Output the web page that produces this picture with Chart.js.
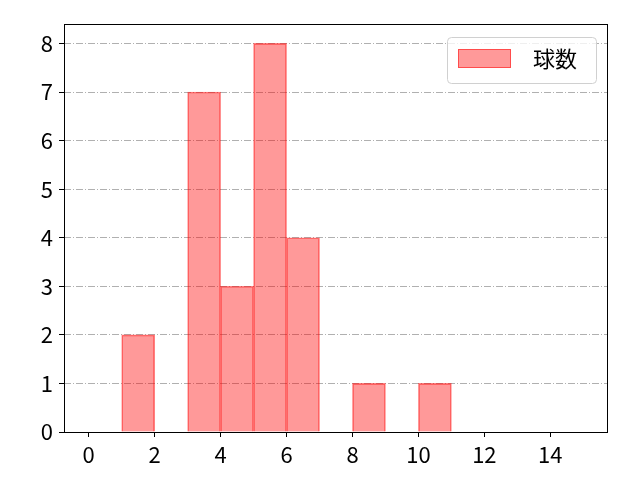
<!DOCTYPE html>
<html>
<head>
<meta charset="utf-8">
<script src="https://cdn.jsdelivr.net/npm/chart.js@4.4.0/dist/chart.umd.min.js"></script>
<style>
  html, body { margin: 0; padding: 0; background: #fff; }
  #wrap { width: 640px; height: 480px; }
</style>
</head>
<body>
<div id="wrap"><canvas id="mycanvas" width="640" height="480"></canvas></div>
<script>
// histogram bins (width 1) and counts
var binStarts = [0, 1, 2, 3, 4, 5, 6, 7, 8, 9, 10, 11, 12, 13, 14];
var counts    = [0, 2, 0, 7, 3, 8, 4, 0, 1, 0, 1, 0, 0, 0, 0];
var xTicks = [0, 2, 4, 6, 8, 10, 12, 14];
var yTicks = [0, 1, 2, 3, 4, 5, 6, 7, 8];
var seriesLabel = '球数';

var FONT = "'Noto Sans CJK JP', 'Noto Sans', sans-serif";

var points = [];
for (var i in binStarts) {
  points.push({ x: binStarts[i] + 0.5, y: counts[i] });
}

// box round the plot and the legend in the upper right corner
var frameAndLegend = {
  id: 'frameAndLegend',
  afterDraw: function(chart) {
    var c = chart.ctx, a = chart.chartArea;
    c.save();
    c.strokeStyle = '#000';
    c.lineWidth = 1;
    c.strokeRect(Math.round(a.left) + 0.5, Math.round(a.top) + 0.5,
                 Math.round(a.right - a.left) - 1, Math.round(a.bottom - a.top));

    var ds = chart.data.datasets[0];
    var w = 149, h = 46;
    var lx = a.right - 12 - w, ly = a.top + 13;
    c.beginPath();
    c.roundRect(lx + 0.5, ly + 0.5, w, h, 4);
    c.fillStyle = 'rgba(255,255,255,0.8)';
    c.fill();
    c.strokeStyle = '#d0d0d0';
    c.stroke();

    c.fillStyle = '#fff';
    c.fillRect(lx + 11, ly + 12, 53, 19);
    c.fillStyle = ds.backgroundColor;
    c.fillRect(lx + 11, ly + 12, 53, 19);
    c.strokeStyle = ds.borderColor;
    c.strokeRect(lx + 11.5, ly + 12.5, 52, 18);

    c.fillStyle = '#000';
    c.font = '22px ' + FONT;
    c.textBaseline = 'middle';
    c.textAlign = 'left';
    c.fillText(ds.label, lx + 86, ly + 22);
    c.restore();
  }
};

var ctx = document.getElementById('mycanvas');

var barGraph = new Chart(ctx, {
  type: 'bar',
  data: {
    datasets: [{
      label: seriesLabel,
      data: points,
      backgroundColor: 'rgba(255, 0, 0, 0.4)',
      borderColor: 'rgba(255, 0, 0, 0.5)',
      borderWidth: 1,
      barPercentage: 1,
      categoryPercentage: 1
    }]
  },
  options: {
    responsive: false,
    animation: false,
    devicePixelRatio: 1,
    layout: { padding: { top: 24, right: 32, left: 0, bottom: 0 } },
    plugins: {
      legend: { display: false },
      tooltip: { enabled: false }
    },
    scales: {
      x: {
        type: 'linear',
        offset: false,
        min: -0.75,
        max: 15.75,
        afterBuildTicks: function(scale) {
          scale.ticks = xTicks.map(function(v) { return { value: v }; });
        },
        afterFit: function(scale) { scale.height = 48; },
        border: { display: false },
        grid: {
          offset: false,
          drawOnChartArea: false,
          drawTicks: true,
          tickLength: 5,
          tickColor: '#000',
          tickWidth: 1
        },
        ticks: {
          color: '#000',
          padding: 4,
          maxRotation: 0,
          autoSkip: false,
          font: { family: FONT, size: 22 }
        }
      },
      y: {
        min: 0,
        max: 8.4,
        afterBuildTicks: function(scale) {
          scale.ticks = yTicks.map(function(v) { return { value: v }; });
        },
        afterFit: function(scale) { scale.width = 64; },
        border: { display: false, dash: [7, 2, 1, 2] },
        grid: {
          color: '#b0b0b0',
          lineWidth: 1,
          drawTicks: true,
          tickLength: 5,
          tickColor: '#000',
          tickWidth: 1,
          tickBorderDash: []
        },
        ticks: {
          color: '#000',
          padding: 6,
          autoSkip: false,
          font: { family: FONT, size: 22 }
        }
      }
    }
  },
  plugins: [frameAndLegend]
});
</script>
</body>
</html>
